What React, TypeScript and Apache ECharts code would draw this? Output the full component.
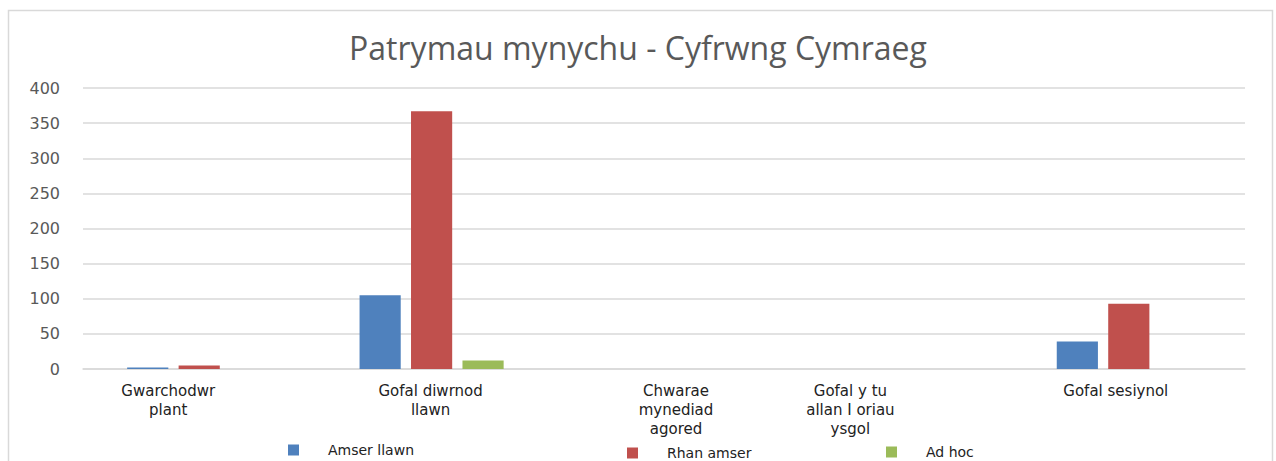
import React, { useEffect, useRef } from "react";
import * as echarts from "echarts";

const categories = [
  "Gwarchodwr\nplant",
  "Gofal diwrnod\nllawn",
  "Chwarae\nmynediad\nagored",
  "Gofal y tu\nallan I oriau\nysgol",
  "Gofal sesiynol",
];
const seriesNames = ["Amser llawn", "Rhan amser", "Ad hoc"];
const amserLlawn = [2, 105, 0, 0, 39];
const rhanAmser = [5, 367, 0, 0, 93];
const adHoc = [0, 12, 0, 0, 0];
const colors = ["#4f81bd", "#c0504d", "#9bbb59"];

export default function App() {
  const ref = useRef<HTMLDivElement>(null);
  useEffect(() => {
    if (!ref.current) return;
    const chart = echarts.init(ref.current, null, { renderer: "svg" });
    const values = [amserLlawn, rhanAmser, adHoc];
    const legendPos = [
      { left: 283, top: 438 },
      { left: 622, top: 441 },
      { left: 881, top: 440 },
    ];
    // label shifts (padding) to mimic the reference's off-centre labels
    const labelPad = [
      [0, 62, 0, 0],
      [0, 2, 0, 0],
      [0, 0, 0, 24],
      [0, 92, 0, 0],
      [0, 26, 0, 0],
    ];
    chart.setOption({
      animation: false,
      backgroundColor: "#ffffff",
      title: {
        text: "Patrymau mynychu - Cyfrwng Cymraeg",
        left: "center",
        top: 26,
        textStyle: {
          fontFamily: "Open Sans",
          fontSize: 32,
          fontWeight: "normal",
          color: "#595959",
        },
      },
      graphic: [
        {
          type: "rect",
          shape: { x: 8.5, y: 10.5, width: 1264, height: 470 },
          style: { fill: "none", stroke: "#d9d9d9", lineWidth: 1.5 },
          silent: true,
        },
      ],
      legend: seriesNames.map((n, i) => ({
        data: [n],
        left: legendPos[i].left,
        top: legendPos[i].top,
        icon: "rect",
        itemWidth: 11,
        itemHeight: 11,
        textStyle: {
          fontFamily: "DejaVu Sans",
          fontSize: 14,
          color: "#222222",
          padding: [0, 0, 0, 24],
        },
      })),
      grid: { left: 83, right: 31, top: 88, bottom: 92, containLabel: false },
      xAxis: {
        type: "category",
        data: categories.map((c, i) => ({
          value: c,
          textStyle: { padding: labelPad[i] },
        })),
        axisLine: { lineStyle: { color: "#d9d9d9", width: 1.5 } },
        axisTick: { show: false },
        axisLabel: {
          interval: 0,
          margin: 12,
          fontFamily: "DejaVu Sans",
          fontSize: 15,
          lineHeight: 19,
          color: "#222222",
        },
      },
      yAxis: {
        type: "value",
        min: 0,
        max: 400,
        interval: 50,
        axisLine: { show: false },
        axisTick: { show: false },
        splitLine: { lineStyle: { color: "#d9d9d9", width: 1.5 } },
        axisLabel: {
          margin: 23,
          fontFamily: "DejaVu Sans",
          fontSize: 16,
          color: "#595959",
        },
      },
      series: seriesNames.map((n, i) => ({
        name: n,
        type: "bar",
        data: values[i],
        itemStyle: { color: colors[i] },
        barGap: "25%",
        barCategoryGap: "38%",
      })),
    });
    return () => chart.dispose();
  }, []);
  return (
    <div
      ref={ref}
      style={{ position: "absolute", left: 0, top: 0, width: 1276, height: 461 }}
    />
  );
}
